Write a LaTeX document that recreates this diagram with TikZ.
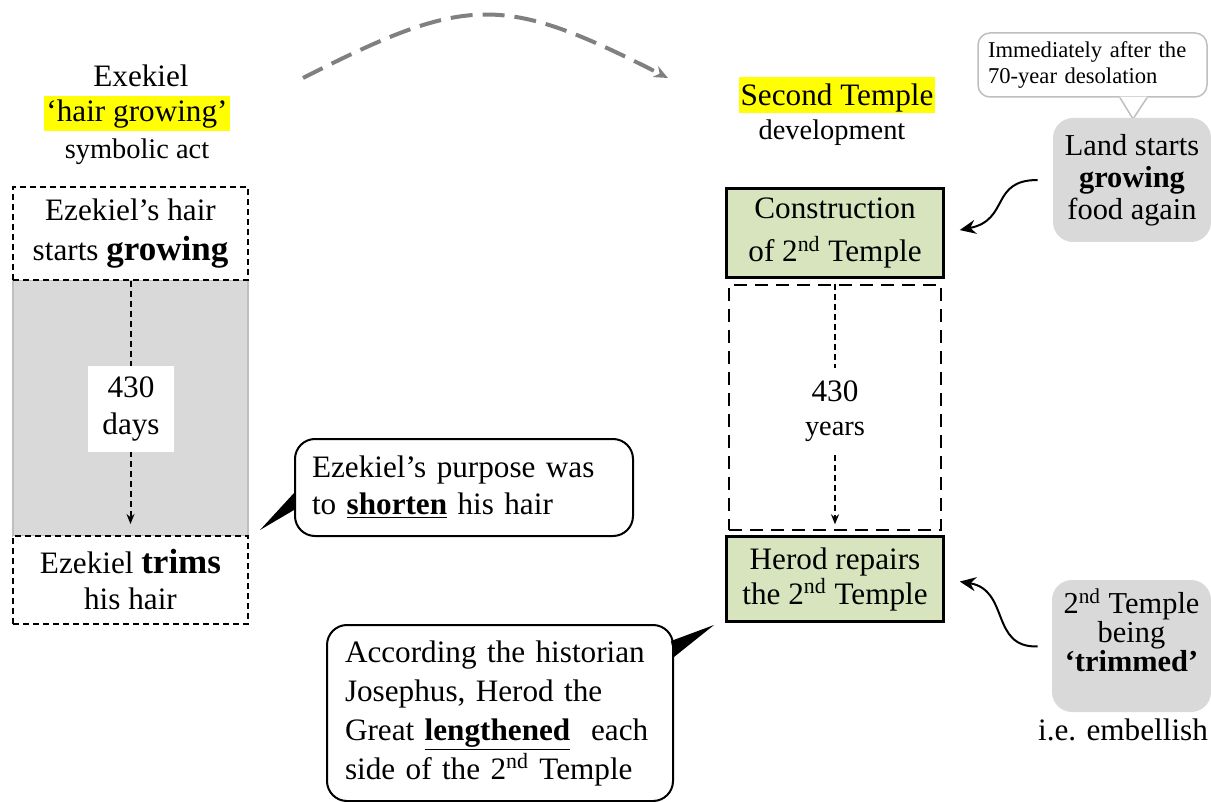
\documentclass[tikz,border=0pt]{standalone}
\usepackage{fontspec}
\setmainfont{Liberation Serif}
\usetikzlibrary{arrows.meta}
\definecolor{hlyellow}{HTML}{FFFF00}
\definecolor{tmgreen}{HTML}{D7E4BD}
\definecolor{tmgray}{HTML}{D9D9D9}
\definecolor{arcgray}{HTML}{808080}
\definecolor{notegray}{HTML}{BFBFBF}

\begin{document}
\begin{tikzpicture}[x=0.5pt, y=-0.5pt,
  every node/.style={font=\fontsize{15.6}{19}\selectfont, inner sep=0pt},
  hairbox/.style={draw, fill=white, line width=1pt, dash pattern=on 3pt off 2pt, minimum width=117.5pt, align=center},
  temple/.style={draw, line width=1.5pt, fill=tmgreen, minimum width=108.5pt, align=center},
  softbox/.style={fill=tmgray, rounded corners=10pt, align=center},
  bubble/.style={draw, line width=1pt, fill=white, rounded corners=10pt, align=left},
  curvearrow/.style={-{Stealth[length=8pt,width=7pt]}, line width=1pt}]
      \useasboundingbox (0,0) rectangle (1211,802);

      % Ezekiel side, titles
      \node[anchor=base] (exekiel) at (141,87) {Exekiel};
      \node[anchor=base, fill=hlyellow, text height=13pt, text depth=4.5pt, inner xsep=1pt] (hairgrow) at (137,122) {‘hair growing’};
      \node[anchor=base, font=\fontsize{14.2}{17}\selectfont] (symact) at (137,159) {symbolic act};

      % 430 days of growth
      \node[fill=tmgray, draw=notegray, line width=0.75pt, minimum width=117.5pt, minimum height=128pt] (gap) at (130.5,408) {};
      \node[hairbox, minimum height=46.5pt, font=\fontsize{15.6}{20}\selectfont] (grow) at (130.5,233.5) {Ezekiel’s hair\\starts {\fontsize{17.5}{20}\selectfont\bfseries growing}};
      \node[hairbox, minimum height=44pt, font=\fontsize{15.6}{18}\selectfont] (trim) at (130.5,580) {Ezekiel {\fontsize{17.5}{18}\selectfont\bfseries trims}\\his hair};
      \draw[line width=1pt, dash pattern=on 3pt off 2pt, -{Stealth[length=5pt,width=4pt]}, shorten >=5.5pt] (grow.south) -- (trim.north);
      \node[fill=white, minimum width=43pt, minimum height=43pt, align=center, font=\fontsize{15.6}{18.5}\selectfont] (days) at (131,409) {430\\days};

      % Callouts
      \node[bubble, inner xsep=8.5pt, text width=152pt, minimum height=48.5pt, font=\fontsize{15.6}{18.5}\selectfont] (purpose) at (464,487.5) {Ezekiel’s purpose was\\to \underline{\textbf{shorten}} his hair};
      \coordinate (purposetip) at (260,530);
      \fill (purposetip) -- ([yshift=-2.75pt]purpose.west) -- ([yshift=-11.25pt]purpose.west) -- cycle;

      \node[bubble, inner xsep=9pt, text width=155pt, minimum height=88pt, font=\fontsize{15.6}{19.5}\selectfont] (josephus) at (500,713) {According the historian\\Josephus, Herod the\\Great \underline{\textbf{lengthened}}\ \ each\\side of the 2\textsuperscript{nd} Temple};
      \coordinate (josephustip) at (714,625);
      \fill (josephustip) -- ([xshift=-1.5pt,yshift=36pt]josephus.east) -- ([yshift=28pt]josephus.east) -- cycle;

      % Arrow between the two sides
      \coordinate (arcstart) at (303,78);
      \coordinate (arcend) at (668,78);
      \draw[arcgray, line width=2pt, dash pattern=on 11pt off 5pt, -{Stealth[length=7pt,width=6pt]}] (arcstart) .. controls (468,-6) and (503,-6) .. (arcend);

      % Temple side, titles
      \node[anchor=base, fill=hlyellow, text height=14.5pt, text depth=3.5pt, inner xsep=1pt] (second) at (837,106) {Second Temple};
      \node[anchor=base, font=\fontsize{14.2}{17}\selectfont] (develop) at (832,140) {development};

      % Temple boxes
      \node[temple, minimum height=44.5pt, font=\fontsize{15.6}{21.5}\selectfont] (build) at (835,233) {Construction\\of 2\textsuperscript{nd} Temple};
      \node[draw, line width=1.3pt, dash pattern=on 6.5pt off 4pt, minimum width=106pt, minimum height=122.5pt] (span) at (835,407.5) {};
      \node[align=center, minimum height=43.5pt, font=\fontsize{15.6}{17}\selectfont] (years) at (835,411.5) {430\\{\fontsize{14.2}{17}\selectfont years}};
      \node[temple, minimum height=42.5pt, font=\fontsize{15.6}{17.5}\selectfont] (herod) at (835,579) {Herod repairs\\the 2\textsuperscript{nd} Temple};
      \draw[line width=0.75pt, dash pattern=on 3pt off 2pt] (span.north) -- (years.north);
      \draw[line width=0.75pt, dash pattern=on 3pt off 2pt, -{Stealth[length=5pt,width=4pt]}, shorten >=3.5pt] (years.south) -- (span.south);

      % Notes on the right
      \node[draw=notegray, line width=0.75pt, fill=white, rounded corners=6pt, minimum width=114.5pt, minimum height=32pt, inner xsep=5pt, text width=104.5pt, align=left, font=\fontsize{11.3}{13}\selectfont] (after) at (1092.5,65) {Immediately after the\\70-year desolation};
      \coordinate (aftertip) at (1133,119);
      \fill[white] ([xshift=13.75pt,yshift=0.6pt]after.south) -- (aftertip) -- ([xshift=27.25pt,yshift=0.6pt]after.south) -- cycle;
      \draw[notegray, line width=0.75pt] ([xshift=13.75pt]after.south) -- (aftertip) -- ([xshift=27.25pt]after.south);

      \node[softbox, minimum width=79pt, minimum height=62pt, font=\fontsize{15.2}{16}\selectfont] (land) at (1132,180) {Land starts\\\textbf{growing}\\food again};
      \node[softbox, minimum width=79.5pt, minimum height=66pt, text depth=16pt, font=\fontsize{15.2}{14.5}\selectfont] (trimd) at (1131.5,646) {2\textsuperscript{nd} Temple\\being\\\textbf{‘trimmed’}};
      \node[anchor=base] (embellish) at (1123,740) {i.e. embellish};

      % Arrows
      \draw[curvearrow, shorten <=7.5pt, shorten >=7.5pt] (land.west) .. controls (990,180) and (1010,220) .. (build.east);
      \draw[curvearrow, shorten <=7pt, shorten >=7.5pt] (trimd.west) .. controls (990,648) and (1010,590) .. (herod.east);
    \end{tikzpicture}
\end{document}
